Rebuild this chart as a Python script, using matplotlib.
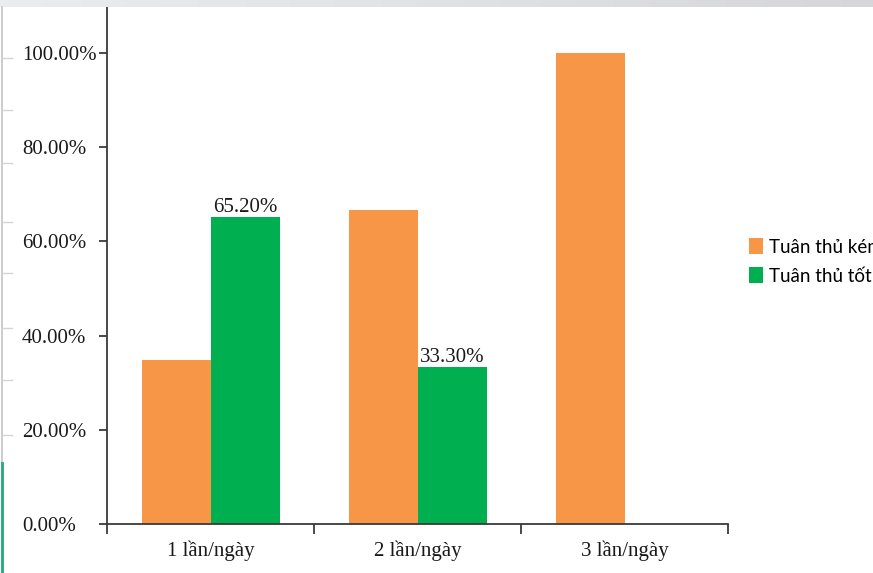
import numpy as np
import matplotlib
matplotlib.use("Agg")
import matplotlib.pyplot as plt
from matplotlib.lines import Line2D
from matplotlib.patches import Patch

# Data
categories = ["1 lần/ngày", "2 lần/ngày", "3 lần/ngày"]
series_names = ["Tuân thủ kém", "Tuân thủ tốt"]
poor = [34.8, 66.7, 100.0]
good = [65.2, 33.3, 0.0]
good_labels = ["65.20%", "33.30%", None]
y_ticks = [0, 20, 40, 60, 80, 100]
y_tick_labels = ["0.00%", "20.00%", "40.00%", "60.00%", "80.00%", "100.00%"]

ORANGE = "#F79646"
GREEN = "#00B050"
AXIS = "#3a3a3a"

W, H = 873, 573
fig = plt.figure(figsize=(W / 100, H / 100), dpi=100)
fig.patch.set_facecolor("white")

def fx(px):
    return px / W

def fy(py):
    return 1 - py / H

ax = fig.add_axes([fx(107), fy(524), fx(728) - fx(107), fy(7) - fy(524)])
x = np.arange(len(categories))
bw = 1 / 3
ax.bar(x - bw / 2, poor, width=bw, color=ORANGE, linewidth=0)
ax.bar(x + bw / 2, good, width=bw, color=GREEN, linewidth=0)

serif = "Liberation Serif"
for xi, val, lab in zip(x, good, good_labels):
    if lab:
        ax.annotate(lab, (xi + bw / 2, val), xytext=(0, 0), textcoords="offset points",
                    ha="center", va="bottom", fontsize=15, family=serif, color="#1a1a1a")

ax.set_xlim(-0.5, len(categories) - 0.5)
ax.set_ylim(0, 109.8)

for side in ("top", "right"):
    ax.spines[side].set_visible(False)
for side in ("left", "bottom"):
    ax.spines[side].set_color(AXIS)
    ax.spines[side].set_linewidth(1.3)

# x axis: boundary ticks, category names centred between them
ax.set_xticks(np.arange(-0.5, len(categories), 1.0))
ax.set_xticklabels([])
ax.set_xticks(x, minor=True)
ax.set_xticklabels(categories, minor=True, fontsize=15, family=serif, color="#1a1a1a")
ax.tick_params(axis="x", which="major", direction="out", length=7.5, width=1.3, color=AXIS)
ax.tick_params(axis="x", which="minor", length=0, pad=12)

# y axis: left-aligned percentage labels
ax.set_yticks(y_ticks)
ax.set_yticklabels(y_tick_labels, fontsize=15, family=serif, color="#1a1a1a")
ax.tick_params(axis="y", direction="out", length=5.8, width=1.3, color=AXIS, pad=55.4)
for t in ax.get_yticklabels():
    t.set_horizontalalignment("left")

# legend
handles = [Patch(facecolor=ORANGE, edgecolor="none"), Patch(facecolor=GREEN, edgecolor="none")]
fig.legend(handles, series_names, loc="upper left", bbox_to_anchor=(fx(749), fy(238)),
           frameon=False, borderpad=0, borderaxespad=0, handlelength=0.75, handleheight=0.95,
           handletextpad=0.3, labelspacing=0.62,
           prop={"family": "Lato", "size": 13.5})

# thin grey band along the top edge
band = fig.add_axes([0, fy(7), 1, 7 / H])
grad = np.linspace(0, 1, 256)[None, :]
c0 = np.array([0.915, 0.93, 0.935])
c1 = np.array([0.84, 0.84, 0.85])
img = c0[None, None, :] + (c1 - c0)[None, None, :] * grad[..., None]
band.imshow(img, aspect="auto", extent=[0, 1, 0, 1])
band.set_axis_off()

# faint ruler at the left margin
fig.add_artist(Line2D([fx(2), fx(2)], [fy(7), fy(463)], color="#c4c4c4", lw=1.2))
for ty in [58, 110, 163, 222, 273, 328, 380, 435]:
    fig.add_artist(Line2D([fx(2), fx(12)], [fy(ty), fy(ty)], color="#d4d4d4", lw=1.0))
fig.add_artist(Line2D([fx(1.5), fx(1.5)], [fy(463), fy(573)], color="#22a877", lw=2.0))

fig.savefig("out.png", dpi=100)
